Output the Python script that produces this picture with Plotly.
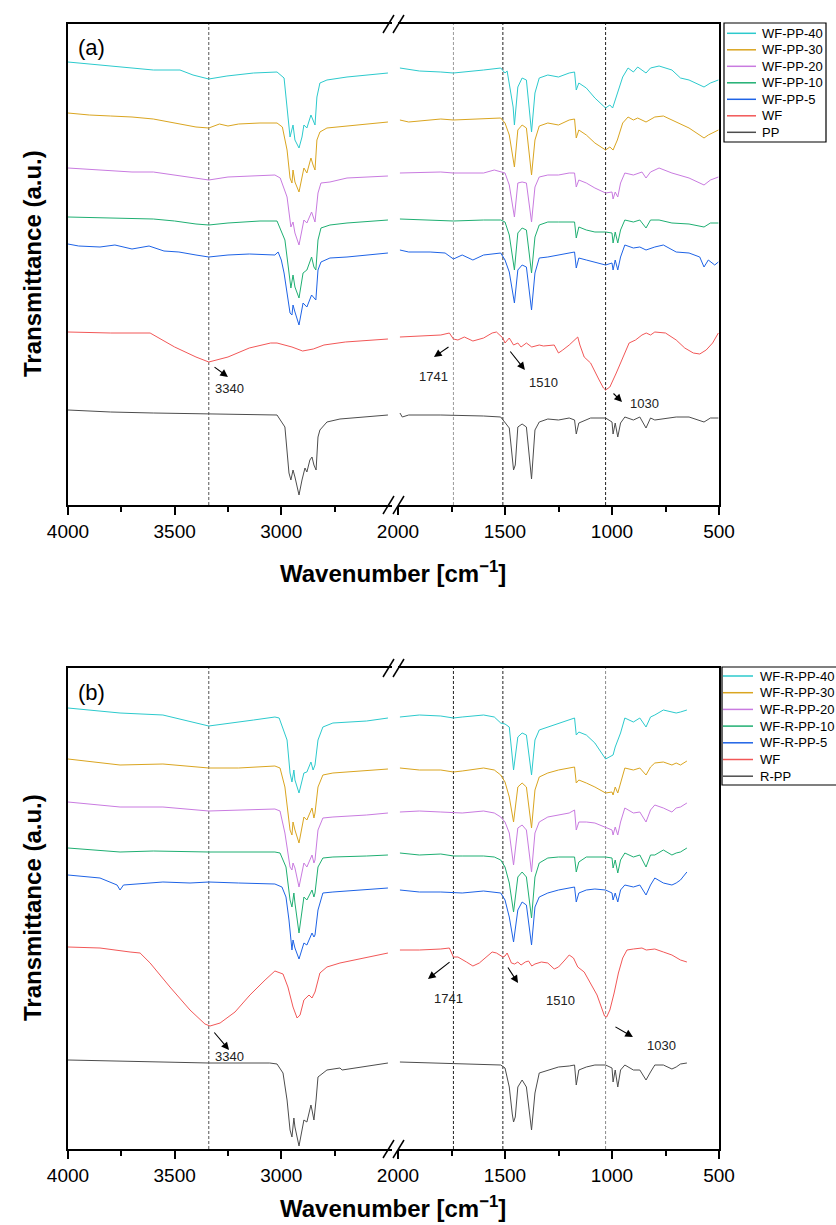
import plotly.graph_objects as go

# ---------------- data (wavenumber [cm-1], transmittance a.u.) ----------------
NAMES_A = ["WF-PP-40", "WF-PP-30", "WF-PP-20", "WF-PP-10", "WF-PP-5", "WF", "PP"]
NAMES_B = ["WF-R-PP-40", "WF-R-PP-30", "WF-R-PP-20", "WF-R-PP-10", "WF-R-PP-5", "WF", "R-PP"]
COLORS = ["#2CCACD", "#DAA520", "#C97BE0", "#1FAF72", "#1E63E6", "#F25757", "#4D4D4D"]

PEAKS_A = [3340, 1741, 1510, 1030]
PEAKS_B = [3340, 1741, 1510, 1030]
PEAK_LABELS = ["3340", "1741", "1510", "1030"]

# ---- panel (a), left segment 4000-2500 ----
A40_L = [[4000,443],[3900,441],[3750,438],[3600,435],[3475,435],[3414,430],[3340,426],[3255,429],[3130,432],[3030,433],[3020,433],[2987,427],[2973,395],[2959,368],[2945,380],[2936,365],[2917,357],[2903,368],[2894,380],[2880,377],[2861,390],[2851,385],[2842,380],[2833,408],[2819,422],[2786,425],[2692,428],[2500,432]]
A30_L = [[4000,392],[3900,390],[3800,389],[3700,388],[3600,386],[3500,382],[3400,378],[3340,377],[3290,381],[3250,379],[3200,381],[3100,382],[3020,382],[2995,378],[2973,355],[2959,327],[2950,322],[2945,335],[2936,323],[2917,313],[2894,337],[2880,332],[2861,347],[2851,340],[2842,335],[2833,365],[2819,373],[2786,377],[2692,379],[2500,383]]
A20_L = [[4000,337],[3800,334],[3700,333],[3600,333],[3500,330],[3400,327],[3340,325],[3250,328],[3150,329],[3030,330],[3005,327],[2973,308],[2955,278],[2945,283],[2936,272],[2917,260],[2894,285],[2880,282],[2858,293],[2851,288],[2842,283],[2828,312],[2814,322],[2772,323],[2692,327],[2500,329]]
A10_L = [[4000,288],[3800,287],[3600,286],[3500,284],[3400,281],[3340,280],[3250,282],[3100,284],[3020,284],[2983,265],[2965,232],[2955,217],[2945,230],[2936,218],[2917,207],[2898,232],[2880,235],[2858,248],[2847,238],[2838,235],[2828,265],[2814,277],[2772,280],[2692,282],[2500,285]]
A05_L = [[4000,261],[3950,259],[3850,258],[3780,260],[3700,256],[3620,259],[3550,254],[3480,253],[3400,250],[3340,248],[3250,250],[3150,251],[3030,250],[3015,253],[3000,245],[2987,232],[2973,212],[2959,192],[2950,190],[2945,200],[2936,193],[2917,180],[2898,202],[2880,198],[2858,210],[2847,207],[2838,205],[2828,235],[2814,243],[2772,247],[2692,248],[2500,252]]
AWF_L = [[4000,173],[3800,172],[3615,172],[3500,158],[3400,148],[3340,143],[3250,148],[3150,157],[3050,162],[3020,162],[2950,158],[2900,154],[2850,156],[2800,160],[2700,163],[2500,166]]
APP_L = [[4000,95],[3800,93],[3600,92],[3340,91],[3100,90],[3020,90],[2983,78],[2973,52],[2964,32],[2955,25],[2945,35],[2936,28],[2917,10],[2903,25],[2889,37],[2880,33],[2866,45],[2856,48],[2847,40],[2837,35],[2828,68],[2819,75],[2786,83],[2725,86],[2630,88],[2500,90]]

# ---- panel (a), right segment 2000-500 ----
A40_R = [[1991,437],[1900,434],[1800,433],[1741,432],[1600,435],[1520,437],[1500,432],[1490,434],[1462,398],[1456,380],[1440,418],[1420,427],[1400,425],[1376,373],[1360,412],[1340,427],[1300,430],[1250,428],[1200,432],[1175,433],[1167,415],[1155,422],[1120,417],[1080,407],[1030,397],[1010,400],[997,397],[975,412],[950,428],[925,437],[900,433],[880,438],[841,432],[820,437],[780,439],[720,435],[680,427],[640,425],[570,418],[540,422],[503,425]]
A30_R = [[1991,385],[1950,383],[1800,386],[1741,385],[1520,387],[1500,382],[1480,370],[1456,338],[1440,375],[1420,380],[1400,377],[1376,330],[1360,365],[1340,379],[1300,382],[1250,380],[1200,385],[1175,386],[1167,367],[1155,375],[1120,370],[1080,362],[1030,355],[1010,358],[995,355],[975,365],[950,382],[925,388],[900,385],[880,387],[841,383],[800,388],[760,389],[700,383],[640,377],[570,367],[550,370],[503,375]]
A20_R = [[1991,332],[1800,333],[1741,332],[1600,332],[1550,335],[1520,333],[1500,332],[1480,320],[1456,288],[1440,322],[1420,323],[1400,322],[1376,283],[1360,318],[1340,328],[1300,330],[1250,330],[1200,332],[1175,332],[1167,318],[1155,325],[1120,322],[1080,317],[1030,312],[1000,313],[995,306],[985,313],[973,308],[960,322],[940,332],[900,330],[860,333],[841,327],[820,333],[780,337],[720,332],[640,327],[570,320],[540,325],[503,328]]
A10_R = [[1991,286],[1800,285],[1741,284],[1600,285],[1520,285],[1500,283],[1480,270],[1456,235],[1440,272],[1420,277],[1400,275],[1376,232],[1360,268],[1340,280],[1300,283],[1250,283],[1200,283],[1175,283],[1167,267],[1155,278],[1120,275],[1080,273],[1030,273],[1000,272],[995,262],[985,273],[973,262],[960,275],[940,285],[900,283],[870,285],[841,277],[820,285],[780,285],[720,282],[640,281],[570,278],[540,282],[503,282]]
A05_R = [[1991,255],[1950,253],[1850,253],[1780,252],[1741,246],[1700,250],[1650,245],[1600,250],[1520,252],[1500,245],[1480,233],[1456,202],[1440,235],[1420,240],[1400,238],[1376,195],[1360,232],[1340,247],[1300,248],[1250,250],[1200,252],[1175,253],[1167,237],[1155,247],[1120,245],[1080,243],[1030,240],[1000,242],[995,235],[985,245],[973,235],[960,248],[940,260],[900,257],[870,258],[841,255],[800,258],[760,260],[700,253],[640,252],[590,248],[570,238],[550,245],[520,240],[503,243]]
AWF_R = [[1991,168],[1800,170],[1760,172],[1741,166],[1720,165],[1690,168],[1650,164],[1600,167],[1560,172],[1540,173],[1510,167],[1500,162],[1480,167],[1460,160],[1440,162],[1425,158],[1400,162],[1375,158],[1340,160],[1320,159],[1270,160],[1250,152],[1230,155],[1200,160],[1160,168],[1150,160],[1130,148],[1100,142],[1060,125],[1040,117],[1030,115],[1010,118],[980,132],[950,148],[920,162],[890,165],[860,170],[840,172],[820,170],[800,173],[750,172],[700,165],[660,157],[620,152],[590,151],[560,155],[530,162],[503,172]]
APP_R = [[1991,92],[1980,88],[1950,90],[1800,90],[1600,89],[1520,88],[1480,77],[1465,45],[1460,35],[1452,40],[1440,78],[1420,81],[1400,78],[1376,26],[1360,75],[1340,83],[1300,86],[1250,85],[1200,87],[1175,85],[1167,71],[1155,82],[1100,87],[1030,87],[1000,83],[995,71],[985,82],[973,68],[960,82],[940,88],[900,85],[870,88],[841,77],[820,87],[800,85],[700,88],[640,88],[570,83],[540,87],[503,87]]

# ---- panel (b), left segment ----
B40_L = [[4000,441],[3756,436],[3555,434],[3340,423],[3130,429],[3030,432],[3010,431],[2973,409],[2959,376],[2950,367],[2941,379],[2936,369],[2917,356],[2894,376],[2880,377],[2861,387],[2851,379],[2842,384],[2828,409],[2805,422],[2758,426],[2600,428],[2500,431]]
B30_L = [[4000,390],[3756,384],[3555,385],[3340,381],[3200,381],[3030,383],[3006,381],[2983,362],[2959,319],[2950,314],[2945,327],[2936,319],[2917,306],[2894,332],[2880,329],[2856,341],[2847,331],[2842,336],[2828,362],[2805,374],[2758,376],[2600,378],[2500,380]]
B20_L = [[4000,347],[3756,342],[3555,342],[3340,338],[3030,340],[3006,338],[2983,316],[2959,282],[2950,279],[2945,286],[2936,281],[2917,262],[2894,286],[2880,282],[2856,294],[2847,286],[2842,289],[2828,319],[2805,331],[2758,332],[2600,334],[2500,336]]
B10_L = [[4000,301],[3756,297],[3600,298],[3340,297],[3030,297],[3006,296],[2978,282],[2959,249],[2950,242],[2941,256],[2936,246],[2917,216],[2894,252],[2880,249],[2856,259],[2847,252],[2842,256],[2828,282],[2805,291],[2758,292],[2600,293],[2500,294]]
B05_L = [[4000,274],[3850,271],[3770,264],[3756,259],[3740,264],[3555,267],[3428,266],[3340,267],[3200,266],[3030,265],[2997,262],[2978,252],[2964,229],[2950,199],[2945,209],[2936,201],[2917,190],[2894,206],[2880,204],[2856,216],[2847,212],[2842,214],[2828,239],[2805,256],[2758,257],[2600,259],[2500,261]]
BWF_L = [[4000,202],[3850,201],[3709,197],[3662,196],[3615,186],[3522,162],[3428,139],[3358,125],[3334,123],[3287,126],[3217,137],[3147,154],[3076,169],[3030,178],[2992,175],[2969,162],[2945,142],[2926,131],[2912,134],[2894,149],[2870,154],[2856,151],[2842,157],[2819,176],[2786,182],[2725,186],[2500,196]]
BPP_L = [[4000,89],[3750,88],[3340,86],[3054,86],[3020,85],[2992,76],[2973,49],[2959,19],[2950,12],[2941,31],[2936,22],[2917,3],[2903,19],[2894,29],[2880,27],[2866,41],[2861,44],[2856,39],[2847,29],[2837,49],[2828,72],[2786,79],[2725,81],[2715,79],[2600,83],[2500,86]]

# ---- panel (b), right segment ----
B40_R = [[1991,432],[1900,434],[1800,433],[1741,431],[1700,432],[1600,434],[1550,432],[1520,426],[1500,425],[1480,422],[1460,379],[1440,412],[1420,416],[1400,414],[1376,374],[1360,409],[1340,419],[1300,422],[1250,426],[1200,429],[1175,431],[1167,414],[1155,417],[1120,414],[1080,406],[1030,390],[1010,392],[995,394],[985,402],[973,409],[960,416],[940,431],[900,427],[870,431],[841,422],[820,432],[800,434],[760,439],[720,437],[700,436],[680,437],[650,439]]
B30_R = [[1991,381],[1900,379],[1800,379],[1741,377],[1700,378],[1600,381],[1550,379],[1520,374],[1500,367],[1480,352],[1460,327],[1440,362],[1420,366],[1400,362],[1376,321],[1360,359],[1340,372],[1300,376],[1250,379],[1200,381],[1175,382],[1167,366],[1155,369],[1120,366],[1080,362],[1030,356],[1000,357],[995,354],[985,362],[973,356],[960,367],[940,381],[900,379],[870,381],[841,374],[820,382],[800,386],[760,387],[720,384],[700,386],[680,384],[650,388]]
B20_R = [[1991,337],[1900,338],[1800,337],[1741,336],[1700,336],[1600,338],[1550,336],[1520,332],[1500,327],[1480,316],[1460,284],[1440,321],[1420,324],[1400,319],[1376,277],[1360,316],[1340,327],[1300,332],[1250,334],[1200,336],[1175,339],[1167,319],[1155,327],[1120,327],[1080,326],[1030,322],[1000,319],[995,314],[985,322],[973,314],[960,327],[940,341],[900,336],[870,337],[841,327],[820,339],[800,344],[760,341],[720,337],[700,341],[680,342],[650,346]]
B10_R = [[1991,296],[1900,294],[1800,295],[1741,293],[1700,293],[1600,293],[1550,292],[1520,289],[1500,282],[1480,266],[1460,237],[1440,272],[1420,277],[1400,272],[1376,231],[1360,272],[1340,286],[1300,291],[1250,292],[1200,292],[1175,292],[1167,277],[1155,287],[1120,292],[1080,292],[1030,292],[1000,291],[995,281],[985,289],[973,276],[960,289],[940,296],[900,292],[870,294],[841,282],[820,294],[800,294],[760,299],[720,294],[700,296],[680,297],[650,301]]
B05_R = [[1991,259],[1900,257],[1800,257],[1741,256],[1700,256],[1600,258],[1550,257],[1520,256],[1500,249],[1480,232],[1460,207],[1440,239],[1420,247],[1400,244],[1376,204],[1360,242],[1340,252],[1300,256],[1250,259],[1200,261],[1175,262],[1167,247],[1155,256],[1120,259],[1080,260],[1030,259],[1000,256],[995,249],[985,256],[973,247],[960,259],[940,264],[900,262],[870,264],[841,254],[820,264],[800,271],[760,266],[720,264],[700,266],[680,269],[650,277]]
BWF_R = [[1991,199],[1900,199],[1800,200],[1760,201],[1741,192],[1720,192],[1680,187],[1650,183],[1620,186],[1580,194],[1560,197],[1540,196],[1510,192],[1500,193],[1490,196],[1470,186],[1455,185],[1440,187],[1425,184],[1405,187],[1390,188],[1375,183],[1360,185],[1330,187],[1300,186],[1270,180],[1250,182],[1220,189],[1200,194],[1180,191],[1160,182],[1130,177],[1110,169],[1090,162],[1070,154],[1050,142],[1035,133],[1025,132],[1010,139],[990,156],[970,176],[950,191],[930,199],[900,200],[860,201],[840,199],[800,200],[760,197],[720,194],[680,189],[650,187]]
BPP_R = [[1991,87],[1800,86],[1600,85],[1520,84],[1500,81],[1480,62],[1466,35],[1460,27],[1452,32],[1440,62],[1420,69],[1400,62],[1376,19],[1360,56],[1340,76],[1300,79],[1250,82],[1200,83],[1175,84],[1167,64],[1155,79],[1120,82],[1080,84],[1030,84],[1000,81],[995,67],[985,79],[973,62],[960,79],[940,84],[900,79],[870,79],[841,69],[820,77],[800,84],[760,84],[720,80],[700,82],[680,85],[650,86]]

SERIES_A_L = [A40_L, A30_L, A20_L, A10_L, A05_L, AWF_L, APP_L]
SERIES_A_R = [A40_R, A30_R, A20_R, A10_R, A05_R, AWF_R, APP_R]
SERIES_B_L = [B40_L, B30_L, B20_L, B10_L, B05_L, BWF_L, BPP_L]
SERIES_B_R = [B40_R, B30_R, B20_R, B10_R, B05_R, BWF_R, BPP_R]

X_MAJOR_L = [4000, 3500, 3000]
X_MINOR_L = [3750, 3250, 2750]
X_MAJOR_R = [2000, 1500, 1000, 500]
X_MINOR_R = [1750, 1250, 750]

# ---------------- layout geometry ----------------
W, H = 836, 1225
ML, MR, MT, MB = 68, 117, 24, 76
PW, PH = W - ML - MR, H - MT - MB
FONT = "Arial, 'Liberation Sans', sans-serif"


def px2x(px):
    return (px - ML) / PW


def py2y(py):
    return (H - MB - py) / PH


XL_DOM = [0, px2x(392)]
XR_DOM = [px2x(398), 1]
YA_DOM = [py2y(505), py2y(24)]
YB_DOM = [py2y(1149), py2y(668)]
Y_RANGE = [0, 481]
XL_RANGE = [4000, 4000 - (392 - ML) * 1519 / 324]
XR_RANGE = [2000, 500]

fig = go.Figure()


def add_panel(series_l, series_r, names, xl, yl, xr, yr):
    for i, name in enumerate(names):
        for seg, xa, ya in ((series_l[i], xl, yl), (series_r[i], xr, yr)):
            fig.add_trace(go.Scatter(
                x=[p[0] for p in seg], y=[p[1] for p in seg], mode="lines",
                line=dict(color=COLORS[i], width=1), name=name,
                showlegend=False, xaxis=xa, yaxis=ya, hoverinfo="skip"))


add_panel(SERIES_A_L, SERIES_A_R, NAMES_A, "x", "y", "x2", "y2")
add_panel(SERIES_B_L, SERIES_B_R, NAMES_B, "x3", "y3", "x4", "y4")

axis_common = dict(showgrid=False, zeroline=False, showline=True, linecolor="black",
                   linewidth=1.5)
xcommon = dict(axis_common, mirror=True, ticks="outside", ticklen=8, tickwidth=1.5,
               tickcolor="black", tickfont=dict(family=FONT, size=19, color="black"),
               tickmode="array")
ycommon = dict(axis_common, range=Y_RANGE, showticklabels=False, ticks="", fixedrange=True)

minor_l = dict(tickvals=X_MINOR_L, ticklen=5, tickwidth=1.5, tickcolor="black", ticks="outside")
minor_r = dict(tickvals=X_MINOR_R, ticklen=5, tickwidth=1.5, tickcolor="black", ticks="outside")

fig.update_layout(
    xaxis=dict(xcommon, domain=XL_DOM, range=XL_RANGE, tickvals=X_MAJOR_L, minor=minor_l, anchor="y"),
    xaxis2=dict(xcommon, domain=XR_DOM, range=XR_RANGE, tickvals=X_MAJOR_R, minor=minor_r, anchor="y2"),
    yaxis=dict(ycommon, domain=YA_DOM, anchor="x"),
    yaxis2=dict(ycommon, domain=YA_DOM, anchor="x2", side="right"),
    xaxis3=dict(xcommon, domain=XL_DOM, range=XL_RANGE, tickvals=X_MAJOR_L, minor=minor_l, anchor="y3"),
    xaxis4=dict(xcommon, domain=XR_DOM, range=XR_RANGE, tickvals=X_MAJOR_R, minor=minor_r, anchor="y4"),
    yaxis3=dict(ycommon, domain=YB_DOM, anchor="x3"),
    yaxis4=dict(ycommon, domain=YB_DOM, anchor="x4", side="right"),
)

# dashed reference lines
LINE_COLORS_A = ["#555555", "#9A9A9A", "#222222", "#222222"]
LINE_COLORS_B = ["#555555", "#222222", "#222222", "#8A8A8A"]
shapes = []
for wn, col in zip(PEAKS_A, LINE_COLORS_A):
    xr = "x" if wn > 2200 else "x2"
    shapes.append(dict(type="line", xref=xr, yref="paper", x0=wn, x1=wn,
                       y0=YA_DOM[0], y1=YA_DOM[1], layer="below",
                       line=dict(color=col, width=1, dash="3px,2px")))
for wn, col in zip(PEAKS_B, LINE_COLORS_B):
    xr = "x3" if wn > 2200 else "x4"
    shapes.append(dict(type="line", xref=xr, yref="paper", x0=wn, x1=wn,
                       y0=YB_DOM[0], y1=YB_DOM[1], layer="below",
                       line=dict(color=col, width=1, dash="3px,2px")))

# axis-break marks
for axis_py in (24, 505, 668, 1149):
    for dx in (0, 10):
        shapes.append(dict(type="line", xref="paper", yref="paper",
                           x0=px2x(383 + dx), y0=py2y(axis_py + 9),
                           x1=px2x(394 + dx), y1=py2y(axis_py - 9),
                           line=dict(color="black", width=1.5)))

ann = []
# legend boxes (drawn keys + names)
LEGENDS = [(NAMES_A, 724, 826, 23, 142, 727, 756, 760, 33.3, 16.5),
           (NAMES_B, 722, 840, 667, 785, 723, 753, 758, 676.0, 16.7)]
for names, bx0, bx1, by0, by1, lx0, lx1, tx, ry0, dy in LEGENDS:
    shapes.append(dict(type="rect", xref="paper", yref="paper",
                       x0=px2x(bx0), x1=px2x(bx1), y0=py2y(by1), y1=py2y(by0),
                       line=dict(color="black", width=1.2), fillcolor="white", layer="above"))
    for i, name in enumerate(names):
        ry = ry0 + i * dy
        shapes.append(dict(type="line", xref="paper", yref="paper",
                           x0=px2x(lx0), x1=px2x(lx1), y0=py2y(ry), y1=py2y(ry),
                           line=dict(color=COLORS[i], width=1.5), layer="above"))
        ann.append(dict(text=name, xref="paper", yref="paper", x=px2x(tx), y=py2y(ry),
                        xanchor="left", yanchor="middle", showarrow=False,
                        font=dict(family=FONT, size=13, color="black")))
fig.update_layout(shapes=shapes)

# axis titles and panel labels
for py_t in (572, 1207):
    ann.append(dict(text="<b>Wavenumber [cm<sup>\u22121</sup>]</b>", xref="paper", yref="paper",
                    x=px2x(393), y=py2y(py_t), xanchor="center", yanchor="middle",
                    showarrow=False, font=dict(family=FONT, size=24, color="black")))
for py_t in (264, 908):
    ann.append(dict(text="<b>Transmittance (a.u.)</b>", xref="paper", yref="paper",
                    x=px2x(32), y=py2y(py_t), xanchor="center", yanchor="middle",
                    showarrow=False, textangle=-90,
                    font=dict(family=FONT, size=24, color="black")))
for lab, py_t in (("(a)", 48), ("(b)", 692)):
    ann.append(dict(text=lab, xref="paper", yref="paper", x=px2x(91), y=py2y(py_t),
                    xanchor="center", yanchor="middle", showarrow=False,
                    font=dict(family=FONT, size=22, color="black")))

# peak arrows (head, tail) and labels, in data coordinates
ARROWS_A = [("x", "y", 3250, 128, 3320, 139, 3241, 117),
            ("x2", "y2", 1832, 148, 1757, 159, 1836, 129),
            ("x2", "y2", 1407, 135, 1481, 155, 1318, 123),
            ("x2", "y2", 953, 103, 1000, 113, 846, 102)]
ARROWS_B = [("x3", "y3", 3245, 99, 3320, 118, 3243, 93),
            ("x4", "y4", 1860, 170, 1752, 188, 1762, 151),
            ("x4", "y4", 1439, 166, 1491, 183, 1243, 149),
            ("x4", "y4", 902, 112, 991, 123, 767, 104)]
for arrows in (ARROWS_A, ARROWS_B):
    for (xr, yr, hx, hy, tx, ty, lx, ly), lab in zip(arrows, PEAK_LABELS):
        ann.append(dict(xref=xr, yref=yr, axref=xr, ayref=yr, x=hx, y=hy, ax=tx, ay=ty,
                        text="", showarrow=True, arrowhead=2, arrowsize=1.4,
                        arrowwidth=1.1, arrowcolor="black"))
        ann.append(dict(xref=xr, yref=yr, x=lx, y=ly, text=lab, showarrow=False,
                        xanchor="center", yanchor="middle",
                        font=dict(family=FONT, size=13, color="#222222")))
fig.update_layout(annotations=ann)

fig.update_layout(
    width=W, height=H,
    margin=dict(l=ML, r=MR, t=MT, b=MB, autoexpand=False),
    paper_bgcolor="white", plot_bgcolor="white",
    font=dict(family=FONT, color="black"),
    showlegend=False,
)

fig.write_html("out.html", config={"displayModeBar": False},
               post_script="document.body.style.margin='0px';document.body.style.overflow='hidden';")
